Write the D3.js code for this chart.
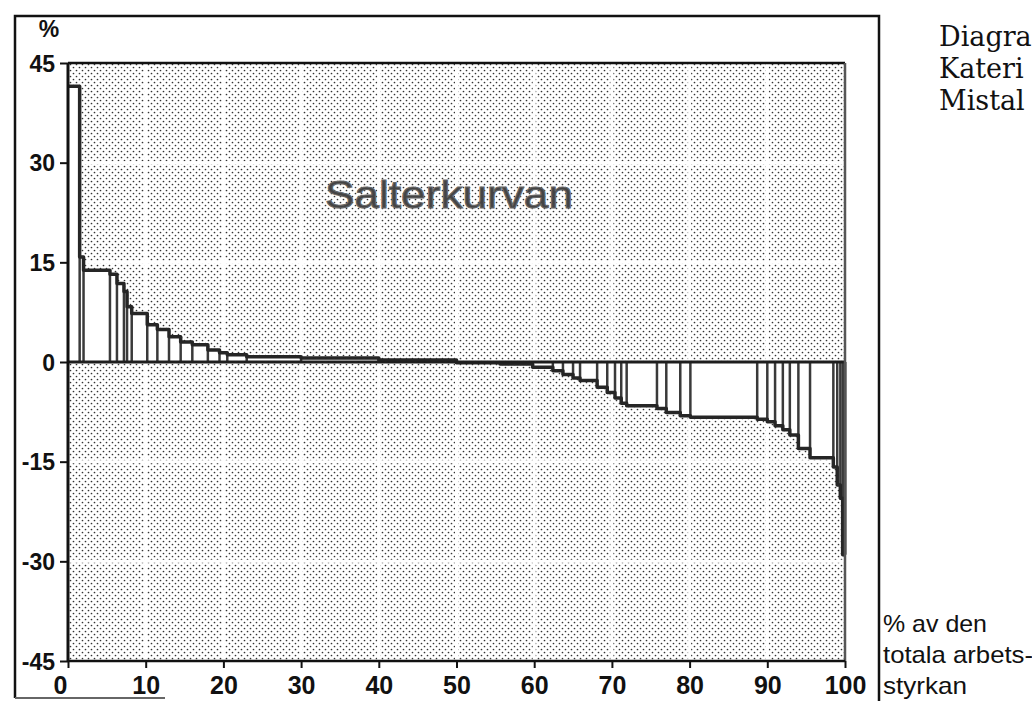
<!DOCTYPE html>
<html><head><meta charset="utf-8">
<script src="https://cdn.jsdelivr.net/npm/d3@7/dist/d3.min.js"></script>
<style>
html,body{margin:0;padding:0;background:#fff;}
svg{display:block;}
</style></head>
<body>
<svg id="chart" width="1032" height="701"></svg>
<script>
// Share of total labour force (bar widths, %) in sorted order
const laborShare = [1.5,0.5,3.4,0.9,0.9,0.4,0.6,2.0,1.3,1.5,1.5,1.5,2.0,1.5,1.0,2.5,7.0,10.0,10.0,
  5.6,4.2,2.6,1.3,1.3,0.9,2.2,1.3,1.0,0.8,0.7,3.9,1.2,1.8,1.3,8.6,1.3,1.0,1.0,0.9,1.1,1.5,3.0,0.5,0.4,0.3,0.3];
// Value per bar (%)
const growthValues = [41.5,15.8,13.8,13.2,11.8,10.6,8.3,7.3,5.6,4.9,3.8,3.0,2.6,1.8,1.4,1.1,0.8,0.6,0.3,
  -0.1,-0.3,-0.8,-1.3,-1.9,-2.4,-2.8,-3.8,-4.6,-5.4,-6.2,-6.6,-7.0,-7.6,-8.1,-8.3,-8.6,-9.0,-9.6,-10.2,-11.0,-13.0,-14.4,-15.8,-18.5,-20.5,-29.0];
const xTicks = [0,10,20,30,40,50,60,70,80,90,100];
const yTicks = [45,30,15,0,-15,-30,-45];
const title = "Salterkurvan";
const yUnit = "%";
const xLabelLines = ["% av den","totala arbets-","styrkan"];
const sideText = ["Diagra","Kateri","Mistal"];

const svg = d3.select("#chart");
const x = d3.scaleLinear().domain([0,100]).range([68,845]);
const y = d3.scaleLinear().domain([-45,45]).range([661,63]);

let cum = 0;
const bars = laborShare.map((w,i)=>{const b={x0:cum,x1:cum+w,v:growthValues[i]}; cum+=w; return b;});

const defs = svg.append("defs");
const pat = defs.append("pattern").attr("id","dots").attr("patternUnits","userSpaceOnUse")
  .attr("width",6).attr("height",6);
pat.append("rect").attr("width",6).attr("height",6).attr("fill","#fff");
pat.append("circle").attr("cx",1.5).attr("cy",1.5).attr("r",0.85).attr("fill","#333");
pat.append("circle").attr("cx",4.5).attr("cy",4.5).attr("r",0.85).attr("fill","#333");

// outer frame
svg.append("path").attr("d","M15,698 L15,16 L879,16 L879,701")
  .attr("fill","none").attr("stroke","#111").attr("stroke-width",2.5);
svg.append("line").attr("x1",15).attr("x2",165).attr("y1",698).attr("y2",698)
  .attr("stroke","#666").attr("stroke-width",2);

// plot background
svg.append("rect").attr("x",x(0)).attr("y",y(45)).attr("width",x(100)-x(0)).attr("height",y(-45)-y(45))
  .attr("fill","url(#dots)");

// white grid lines
const g = svg.append("g");
g.selectAll("line.gx").data(xTicks.filter(d=>d>0&&d<100)).join("line")
  .attr("x1",d=>x(d)).attr("x2",d=>x(d)).attr("y1",y(45)).attr("y2",y(-45))
  .attr("stroke","#fff").attr("stroke-width",3);
g.selectAll("line.gy").data(yTicks.filter(d=>d<45&&d>-45)).join("line")
  .attr("y1",d=>y(d)).attr("y2",d=>y(d)).attr("x1",x(0)).attr("x2",x(100))
  .attr("stroke","#fff").attr("stroke-width",3);

// bars
svg.append("g").selectAll("rect").data(bars).join("rect")
  .attr("x",d=>x(d.x0)).attr("width",d=>x(d.x1)-x(d.x0))
  .attr("y",d=>Math.min(y(d.v),y(0))).attr("height",d=>Math.abs(y(d.v)-y(0)))
  .attr("fill","#fff");

// separators
const sep = svg.append("g").attr("stroke","#3a3a3a").attr("stroke-width",2.5);
bars.forEach((b,i)=>{
  if(i===0) return;
  const prev = bars[i-1];
  if (Math.sign(prev.v)!==Math.sign(b.v)) return;
  const lo = Math.abs(prev.v) < Math.abs(b.v) ? prev.v : b.v;
  sep.append("line").attr("x1",x(b.x0)).attr("x2",x(b.x0)).attr("y1",y(0)).attr("y2",y(lo));
});

// curve outline
const pts = bars.map(b=>[b.x0,b.v]);
pts.push([100,bars[bars.length-1].v]);
const line = d3.line().x(d=>x(d[0])).y(d=>y(d[1])).curve(d3.curveStepAfter);
svg.append("path").attr("d",line(pts)).attr("fill","none")
  .attr("stroke","#262626").attr("stroke-width",3.5).attr("stroke-linejoin","round");
svg.append("line").attr("x1",x(100)).attr("x2",x(100)).attr("y1",y(0)).attr("y2",y(bars[bars.length-1].v))
  .attr("stroke","#262626").attr("stroke-width",3);

// zero line
svg.append("line").attr("x1",x(0)).attr("x2",x(100)).attr("y1",y(0)).attr("y2",y(0))
  .attr("stroke","#1e1e1e").attr("stroke-width",3);

// plot border
svg.append("line").attr("x1",x(0)).attr("x2",x(100)).attr("y1",y(45)).attr("y2",y(45)).attr("stroke","#111").attr("stroke-width",2.5);
svg.append("line").attr("x1",x(0)).attr("x2",x(0)).attr("y1",y(45)).attr("y2",y(-45)).attr("stroke","#111").attr("stroke-width",3);
svg.append("line").attr("x1",x(100)).attr("x2",x(100)).attr("y1",y(45)).attr("y2",y(-45)).attr("stroke","#555").attr("stroke-width",2.5);
svg.append("line").attr("x1",x(0)).attr("x2",x(100)).attr("y1",y(-45)).attr("y2",y(-45)).attr("stroke","#111").attr("stroke-width",2.5);

// y axis
const yAxis = d3.axisLeft(y).tickValues(yTicks).tickSize(8).tickPadding(5).tickFormat(d=>String(d));
const ya = svg.append("g").attr("transform",`translate(${x(0)},0)`).call(yAxis);
ya.select(".domain").remove();
ya.selectAll(".tick line").attr("stroke","#111").attr("stroke-width",2);
ya.selectAll(".tick text").attr("font-family","'Liberation Sans',Arial,sans-serif").attr("font-weight","bold")
  .attr("font-size",23).attr("fill","#111").attr("dy","0.36em");

// x axis
const xAxis = d3.axisBottom(x).tickValues(xTicks).tickSize(7).tickPadding(8).tickFormat(d=>String(d));
const xa = svg.append("g").attr("transform",`translate(0,${y(-45)})`).call(xAxis);
xa.select(".domain").remove();
xa.selectAll(".tick line").attr("stroke","#111").attr("stroke-width",2);
xa.selectAll(".tick text").attr("font-family","'Liberation Sans',Arial,sans-serif").attr("font-weight","bold")
  .attr("font-size",25).attr("fill","#111").attr("dy","0.72em");
xa.selectAll(".tick").filter(d=>d===0).select("text").attr("dx",-8);

// unit label
svg.append("text").attr("x",49).attr("y",37).attr("text-anchor","middle")
  .attr("font-family","'Liberation Sans',Arial,sans-serif").attr("font-weight","bold").attr("font-size",23)
  .attr("fill","#111").text(yUnit);

// title inside plot
svg.append("text").attr("x",325).attr("y",208).attr("textLength",248).attr("lengthAdjust","spacingAndGlyphs")
  .attr("font-family","'Liberation Sans',Arial,sans-serif").attr("font-size",38)
  .attr("fill","#444").attr("stroke","#666").attr("stroke-width",1).text(title);

// x axis label on the right
svg.append("g").selectAll("text").data(xLabelLines).join("text")
  .attr("x",883).attr("y",(d,i)=>632+i*31)
  .attr("font-family","'Liberation Sans',Arial,sans-serif").attr("font-size",24).attr("fill","#111")
  .attr("textLength",(d,i)=>[104,150,84][i]).attr("lengthAdjust","spacingAndGlyphs")
  .text(d=>d);

// side serif text (cut at page edge)
svg.append("g").selectAll("text").data(sideText).join("text")
  .attr("x",939).attr("y",(d,i)=>46+i*32)
  .attr("font-family","'DejaVu Serif','Liberation Serif',serif").attr("font-size",27).attr("fill","#111")
  .text(d=>d);
</script>
</body></html>
